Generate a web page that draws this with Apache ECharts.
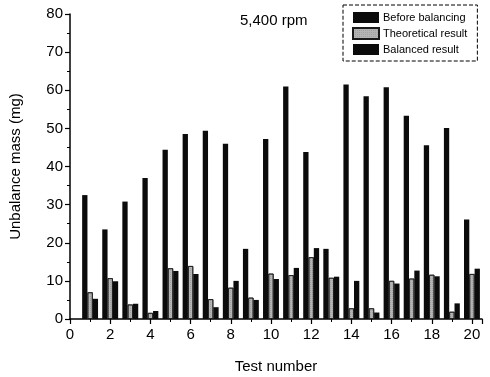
<!DOCTYPE html>
<html>
<head>
<meta charset="utf-8">
<script src="https://cdn.jsdelivr.net/npm/echarts@6/dist/echarts.min.js"></script>
<style>
  html, body { margin: 0; padding: 0; background: #fff; }
  #chart { width: 490px; height: 377px; }
</style>
</head>
<body>
<div id="chart"></div>
<script>
// test numbers 1..20
const tests = [1, 2, 3, 4, 5, 6, 7, 8, 9, 10, 11, 12, 13, 14, 15, 16, 17, 18, 19, 20];
const beforeBalancing = [32.5, 23.5, 30.8, 37.0, 44.4, 48.5, 49.4, 46.0, 18.4, 47.2, 61.0, 43.8, 18.4, 61.5, 58.4, 60.8, 53.3, 45.6, 50.1, 26.1];
const theoretical = [7.0, 10.7, 3.8, 1.6, 13.3, 13.9, 5.2, 8.2, 5.6, 11.9, 11.5, 16.2, 10.8, 2.8, 2.8, 10.0, 10.6, 11.6, 1.9, 11.8];
const balanced = [5.3, 9.9, 4.0, 2.1, 12.6, 11.8, 3.1, 10.0, 5.0, 10.5, 13.4, 18.6, 11.1, 10.0, 1.7, 9.3, 12.7, 11.2, 4.1, 13.2];

const font = "'Liberation Sans', Arial, sans-serif";
const pair = arr => tests.map((t, i) => [t, arr[i]]);

const chart = echarts.init(document.getElementById("chart"));

const option = {
  animation: false,
  title: {
    text: "5,400 rpm",
    left: 235,
    top: 8,
    textStyle: { fontFamily: font, fontSize: 15, fontWeight: "normal", color: "#000" },
  },
  legend: {
    orient: "vertical",
    left: 343,
    top: 5,
    width: 140,
    padding: [7, 10, 6, 9],
    itemWidth: 26,
    itemHeight: 11,
    itemGap: 4,
    icon: "rect",
    borderColor: "#000",
    borderWidth: 1,
    borderType: "dashed",
    textStyle: { fontFamily: font, fontSize: 11, color: "#000", padding: [0, 0, 0, -1] },
  },
  grid: { left: 70, right: 8, top: 14, bottom: 58, outerBoundsMode: "none" },
  xAxis: {
    type: "value",
    min: 0,
    max: 20.5,
    interval: 2,
    name: "Test number",
    nameLocation: "middle",
    nameGap: 40,
    nameTextStyle: { fontFamily: font, fontSize: 15, color: "#000" },
    axisLine: { lineStyle: { color: "#000", width: 1.5 } },
    axisTick: { length: 5, lineStyle: { color: "#000", width: 1.2 } },
    minorTick: { show: true, splitNumber: 2, length: 3, lineStyle: { color: "#000" } },
    axisLabel: { fontFamily: font, fontSize: 15, color: "#000", margin: 8, showMaxLabel: false },
    splitLine: { show: false },
  },
  yAxis: {
    type: "value",
    min: 0,
    max: 80,
    interval: 10,
    name: "Unbalance mass (mg)",
    nameLocation: "middle",
    nameGap: 47,
    nameTextStyle: { fontFamily: font, fontSize: 15, color: "#000" },
    axisLine: { show: true, lineStyle: { color: "#000", width: 1.5 } },
    axisTick: { show: true, length: 5, lineStyle: { color: "#000", width: 1.2 } },
    minorTick: { show: true, splitNumber: 2, length: 3, lineStyle: { color: "#000" } },
    axisLabel: { fontFamily: font, fontSize: 15, color: "#000", margin: 7 },
    splitLine: { show: false },
  },
  series: [
    {
      name: "Before balancing",
      type: "bar",
      data: pair(beforeBalancing),
      barWidth: 5.3,
      barGap: "0%",
      itemStyle: { color: "#0b0b0b" },
    },
    {
      name: "Theoretical result",
      type: "bar",
      data: pair(theoretical),
      barWidth: 5.3,
      barGap: "0%",
      itemStyle: {
        color: "#b4b4b4",
        borderColor: "#1a1a1a",
        borderWidth: 0.8,
        decal: { symbol: "rect", symbolSize: 0.6, color: "rgba(70,70,70,0.55)", dashArrayX: [1, 1], dashArrayY: [1, 1] },
      },
    },
    {
      name: "Balanced result",
      type: "bar",
      data: pair(balanced),
      barWidth: 5.3,
      barGap: "0%",
      itemStyle: { color: "#0b0b0b" },
    },
  ],
};

chart.setOption(option);
</script>
</body>
</html>
